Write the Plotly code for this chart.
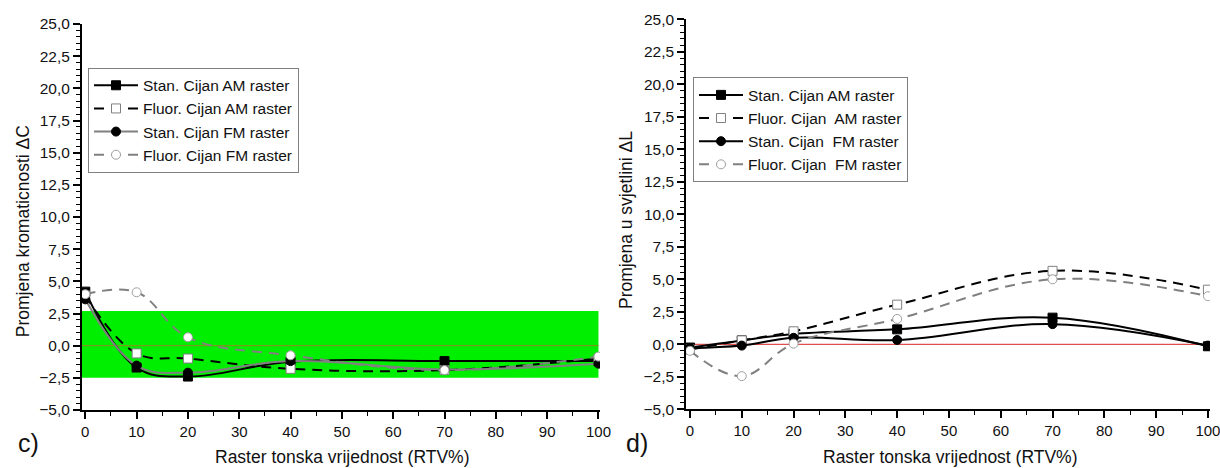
import plotly.graph_objects as go

# ---------------- data ----------------
rtv = [0, 10, 20, 40, 70, 100]

# panel c) – change of chroma ΔC
dC_stan_am = [4.2, -1.7, -2.4, -1.25, -1.2, -1.2]
dC_fluor_am = [3.9, -0.6, -1.0, -1.8, -1.9, -1.0]
dC_stan_fm = [3.6, -1.55, -2.1, -1.2, -1.85, -1.4]
dC_fluor_fm = [4.0, 4.15, 0.65, -0.75, -1.9, -0.85]

# panel d) – change of lightness ΔL
dL_stan_am = [-0.25, 0.3, 0.8, 1.15, 2.05, -0.15]
dL_fluor_am = [-0.4, 0.3, 1.0, 3.05, 5.65, 4.2]
dL_stan_fm = [-0.3, -0.1, 0.5, 0.33, 1.55, -0.1]
dL_fluor_fm = [-0.5, -2.45, 0.05, 1.95, 5.0, 3.7]

labels_c = ["Stan. Cijan AM raster", "Fluor. Cijan AM raster",
            "Stan. Cijan FM raster", "Fluor. Cijan FM raster"]
labels_d = ["Stan. Cijan AM raster", "Fluor. Cijan\u00a0 AM raster",
            "Stan. Cijan\u00a0 FM raster", "Fluor. Cijan\u00a0 FM raster"]

y_ticks = [-5.0, -2.5, 0.0, 2.5, 5.0, 7.5, 10.0, 12.5, 15.0, 17.5, 20.0, 22.5, 25.0]
x_ticks = [0, 10, 20, 30, 40, 50, 60, 70, 80, 90, 100]

tol_low, tol_high = -2.5, 2.7   # green tolerance band in panel c)

# ---------------- styles ----------------
FONT = "Liberation Sans, Arial, sans-serif"
BLACK = "#000000"
GRAY = "#808080"
LGRAY = "#a0a0a0"
DASH = "10px,7px"

def style(kind, panel):
    if kind == "stan_am":
        return dict(color=BLACK, width=2, dash="solid"), dict(symbol="square", size=9, color=BLACK, line=dict(color=BLACK, width=1))
    if kind == "fluor_am":
        return dict(color=BLACK, width=2, dash=DASH), dict(symbol="square", size=9, color="white", line=dict(color=GRAY, width=1))
    if kind == "stan_fm":
        col = GRAY if panel == "c" else BLACK
        return dict(color=col, width=2, dash="solid"), dict(symbol="circle", size=9, color=BLACK, line=dict(color=BLACK, width=1))
    return dict(color=GRAY, width=2, dash=DASH), dict(symbol="circle", size=9, color="white", line=dict(color=LGRAY, width=1))

fig = go.Figure()

kinds = ["stan_am", "fluor_am", "stan_fm", "fluor_fm"]
series_c = [dC_stan_am, dC_fluor_am, dC_stan_fm, dC_fluor_fm]
series_d = [dL_stan_am, dL_fluor_am, dL_stan_fm, dL_fluor_fm]

for k, ys, name in zip(kinds, series_c, labels_c):
    ln, mk = style(k, "c")
    ln = dict(ln, shape="spline", smoothing=1.1)
    fig.add_trace(go.Scatter(x=rtv, y=ys, name=name, mode="lines+markers",
                             line=ln, marker=mk, xaxis="x", yaxis="y",
                             legend="legend"))
for k, ys, name in zip(kinds, series_d, labels_d):
    ln, mk = style(k, "d")
    ln = dict(ln, shape="spline", smoothing=1.1)
    fig.add_trace(go.Scatter(x=rtv, y=ys, name=name, mode="lines+markers",
                             line=ln, marker=mk, xaxis="x2", yaxis="y2",
                             legend="legend2"))

W, H = 1220, 468

def px(v):
    return v / W

def py(v):
    return 1 - v / H

axis_common = dict(showline=True, linecolor=BLACK, linewidth=1.5, showgrid=False,
                   zeroline=False, ticks="outside", ticklen=7, tickwidth=1.5,
                   tickcolor=BLACK, tickfont=dict(family=FONT, size=15, color="#111"),
                   mirror=False, automargin=False, ticklabeloverflow="allow")

minor_x = dict(dtick=5, tick0=0, ticks="outside", ticklen=4, tickcolor=BLACK, tickwidth=1.2)
minor_y = dict(dtick=0.5, tick0=0, ticks="outside", ticklen=4, tickcolor=BLACK, tickwidth=1.2)
yfont = dict(family=FONT, size=15.5, color="#111")

xa_c = dict(axis_common, domain=[px(81.7), px(600)], range=[-0.7, 100.3],
            tickvals=x_ticks, anchor="y", minor=minor_x)
ya_c = dict(axis_common, domain=[py(410), py(24)], range=[-5, 25], tickfont=yfont,
            tickvals=y_ticks, tickformat=".1f", anchor="x", minor=minor_y)
xa_d = dict(axis_common, domain=[px(686), px(1210)], range=[-0.77, 100.4],
            tickvals=x_ticks, anchor="y2", minor=minor_x)
ya_d = dict(axis_common, domain=[py(409.3), py(19.3)], range=[-5, 25], tickfont=yfont,
            tickvals=y_ticks, tickformat=".1f", anchor="x2", minor=minor_y)

shapes = [
    dict(type="rect", xref="x", yref="y", x0=-0.7, x1=100, y0=tol_low, y1=tol_high,
         fillcolor="#00ee00", line=dict(width=0), layer="below"),
    dict(type="line", xref="x", yref="y", x0=-0.7, x1=100, y0=0, y1=0,
         line=dict(color="#7a9a1a", width=1.2), layer="below"),
    dict(type="line", xref="x2", yref="y2", x0=-0.77, x1=100.4, y0=0, y1=0,
         line=dict(color="#e05050", width=1.2), layer="below"),
]

title_font = dict(family=FONT, size=17.5, color="#111")
annotations = [
    dict(text="Raster tonska vrijednost (RTV%)", xref="paper", yref="paper",
         x=px(342), y=py(456.7), showarrow=False, font=title_font,
         xanchor="center", yanchor="middle"),
    dict(text="Raster tonska vrijednost (RTV%)", xref="paper", yref="paper",
         x=px(950), y=py(456.7), showarrow=False, font=title_font,
         xanchor="center", yanchor="middle"),
    dict(text="Promjena kromaticnosti ΔC", xref="paper", yref="paper",
         x=px(22.5), y=py(231.7), showarrow=False, font=title_font, textangle=-90,
         xanchor="center", yanchor="middle"),
    dict(text="Promjena u svjetlini ΔL", xref="paper", yref="paper",
         x=px(626), y=py(220), showarrow=False, font=title_font, textangle=-90,
         xanchor="center", yanchor="middle"),
    dict(text="c)", xref="paper", yref="paper", x=px(28), y=py(443), showarrow=False,
         font=dict(family=FONT, size=25, color="#111"), xanchor="center", yanchor="middle"),
    dict(text="d)", xref="paper", yref="paper", x=px(637), y=py(443), showarrow=False,
         font=dict(family=FONT, size=25, color="#111"), xanchor="center", yanchor="middle"),
]

legend_common = dict(bgcolor="white", bordercolor=GRAY, borderwidth=1,
                     font=dict(family=FONT, size=15.5, color="#111"),
                     xanchor="left", yanchor="top", itemwidth=44,
                     tracegroupgap=0)

fig.update_layout(
    width=W, height=H,
    margin=dict(l=0, r=0, t=0, b=0, autoexpand=False),
    paper_bgcolor="white", plot_bgcolor="white",
    separators=", ",
    xaxis=xa_c, yaxis=ya_c, xaxis2=xa_d, yaxis2=ya_d,
    shapes=shapes, annotations=annotations,
    legend=dict(legend_common, x=px(88), y=py(67.7)),
    legend2=dict(legend_common, x=px(693), y=py(77.3)),
    showlegend=True,
)

fig.write_html("out.html")
